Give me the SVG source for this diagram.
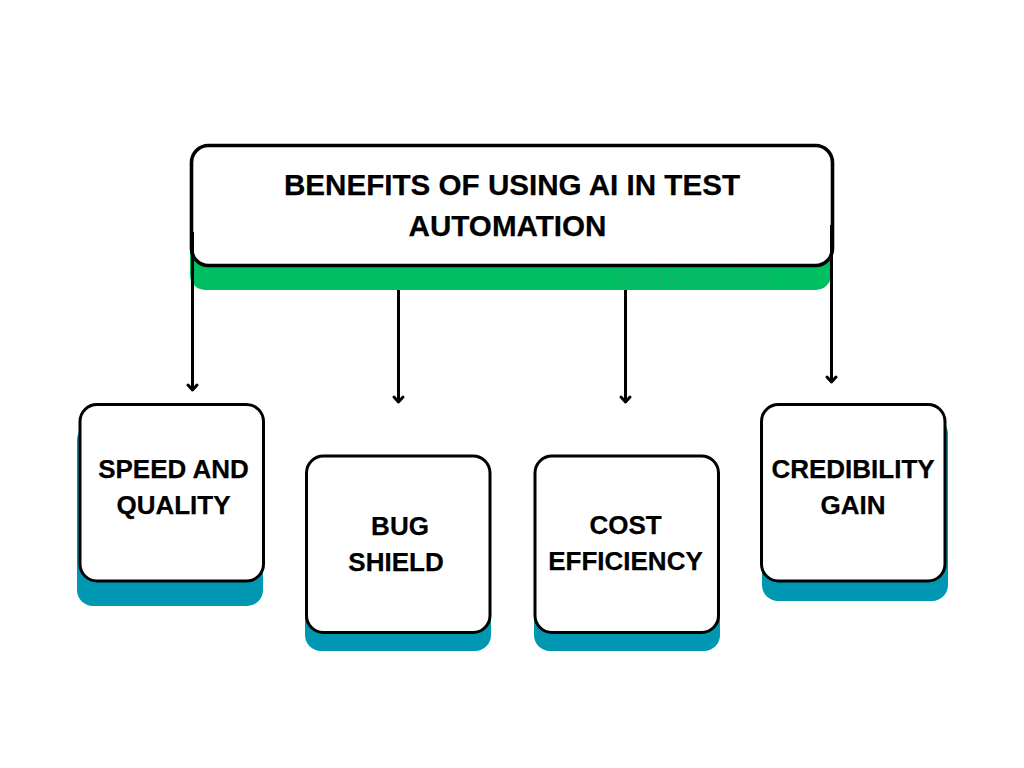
<svg xmlns="http://www.w3.org/2000/svg" width="1024" height="768" viewBox="0 0 1024 768">
<style>
.box{fill:#fff;stroke:#000;stroke-width:3}
.main{stroke-width:3.6}
.teal{fill:#0097b2}
.green{fill:#00bf63}
.t{font-family:"Liberation Sans",Arial,sans-serif;font-weight:700;fill:#000;text-anchor:middle;font-size:26px;stroke:#000;stroke-width:.25}
.tt{font-size:29.6px}
.wm{font-family:"Liberation Sans",Arial,sans-serif;font-weight:700;font-size:28.300px;fill:#0ab866;text-anchor:start}
.c{fill:none;stroke:#000;stroke-width:3}
.h{fill:none;stroke:#000;stroke-width:3;stroke-linecap:round;stroke-linejoin:round}
</style>
<rect width="1024" height="768" fill="#fff"/>
<g id="node-title">
<rect class="green" x="190" y="220" width="641" height="70" rx="15"/>
<text class="wm" x="615" y="288">Webomates</text>
<rect class="box main" x="191.500" y="145.500" width="641" height="120" rx="17"/>
<text class="t tt" x="512" y="195">BENEFITS OF USING AI IN TEST</text>
<text class="t tt" x="507.500" y="236">AUTOMATION</text>
</g>
<g id="connectors">
<path class="c" d="M192.500 232V390"/>
<path class="h" d="M188 385L192.500 390L197 385"/>
<path class="c" d="M398.500 290V402"/>
<path class="h" d="M394 397L398.500 402L403 397"/>
<path class="c" d="M625.500 290V402"/>
<path class="h" d="M621 397L625.500 402L630 397"/>
<path class="c" d="M831.500 225V382"/>
<path class="h" d="M827 377L831.500 382L836 377"/>
</g>
<g id="node-speed">
<rect class="teal" x="77" y="424" width="186" height="182" rx="16"/>
<rect class="box" x="80" y="404.500" width="183.500" height="176.500" rx="17"/>
<text class="t" x="173.500" y="478">SPEED AND</text>
<text class="t" x="173.500" y="514">QUALITY</text>
</g>
<g id="node-bug">
<rect class="teal" x="305" y="480" width="186" height="171" rx="16"/>
<rect class="box" x="306.500" y="456" width="183.500" height="176.500" rx="17"/>
<text class="t" x="400" y="535">BUG</text>
<text class="t" x="396" y="571">SHIELD</text>
</g>
<g id="node-cost">
<rect class="teal" x="534" y="480" width="186" height="171" rx="16"/>
<rect class="box" x="535" y="456" width="183.500" height="176.500" rx="17"/>
<text class="t" x="625.500" y="534">COST</text>
<text class="t" x="625.500" y="570">EFFICIENCY</text>
</g>
<g id="node-credibility">
<rect class="teal" x="762" y="418" width="186" height="183" rx="16"/>
<rect class="box" x="761.500" y="404.500" width="183.500" height="176.500" rx="17"/>
<text class="t" x="853" y="478">CREDIBILITY</text>
<text class="t" x="853" y="514">GAIN</text>
</g>
</svg>
